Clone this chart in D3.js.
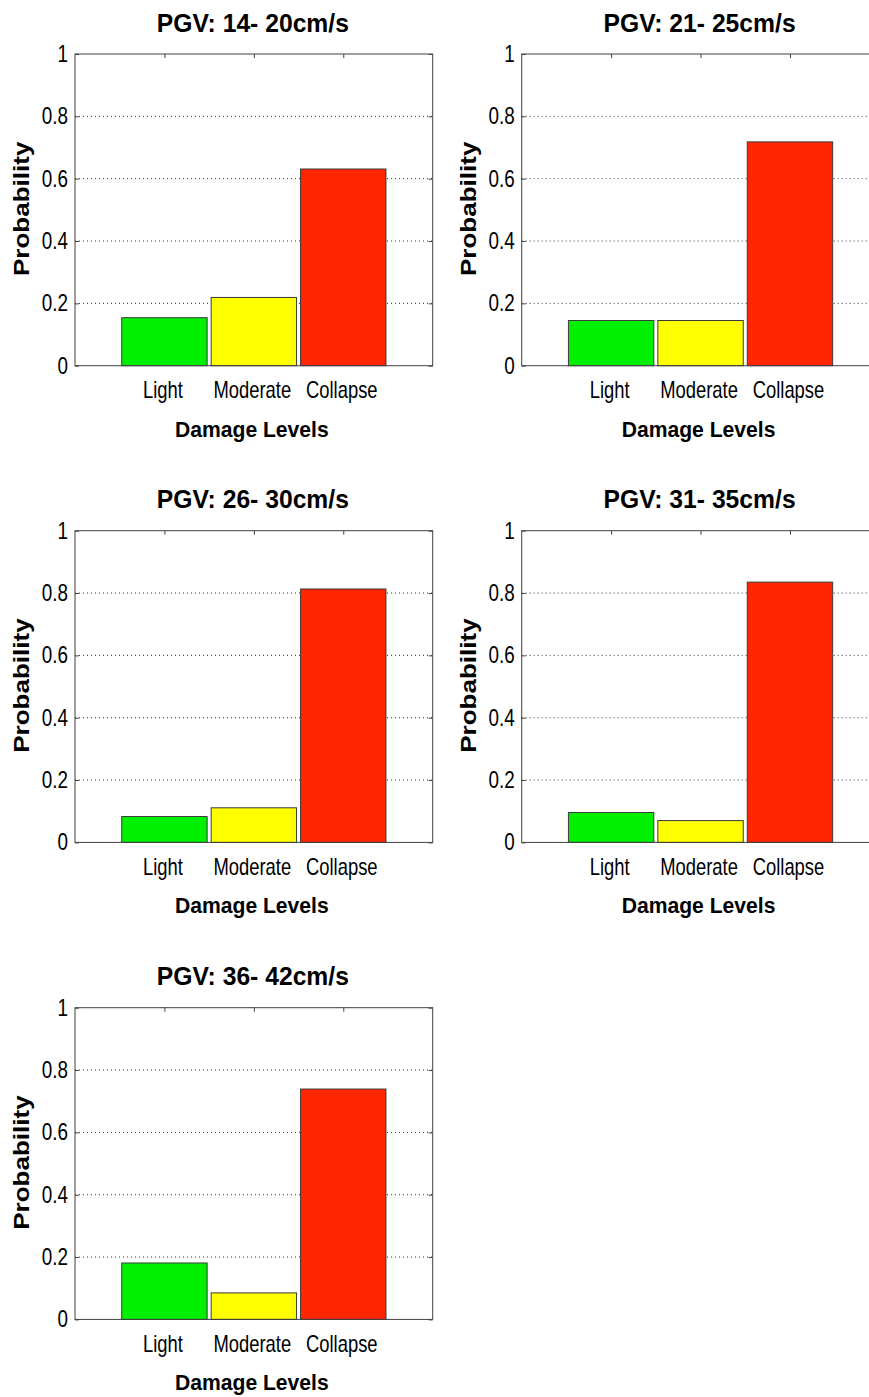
<!DOCTYPE html>
<html>
<head>
<meta charset="utf-8">
<script src="https://cdn.jsdelivr.net/npm/d3@7"></script>
<style>
  body { margin: 0; background: #fff; }
  svg { display: block; }
  text { font-family: "Liberation Sans", Arial, Helvetica, sans-serif; fill: #000; }
</style>
</head>
<body>
<div id="chart"></div>
<script>
// panel titles and damage-level categories
var titles = ["PGV: 14- 20cm/s", "PGV: 21- 25cm/s", "PGV: 26- 30cm/s", "PGV: 31- 35cm/s", "PGV: 36- 42cm/s"];
var categories = ["Light", "Moderate", "Collapse"];

// probability per panel, one array per damage level
var light    = [0.154, 0.145, 0.083, 0.096, 0.181];
var moderate = [0.219, 0.145, 0.111, 0.070, 0.085];
var collapse = [0.631, 0.718, 0.813, 0.835, 0.739];

var yTicks = [0, 0.2, 0.4, 0.6, 0.8, 1];
var colors = ["#00f000", "#ffff00", "#ff2600"];

var W = 869, H = 1397;
var plotW = 357.7, plotH = 311.7;
var colX = [75, 521.7];
var rowY = [54, 530.7, 1007.7];

var svg = d3.select("#chart").append("svg")
    .attr("width", W)
    .attr("height", H);

// x: categories sit at 1,2,3 on a 0..4 axis (matlab style)
var x = d3.scaleLinear().domain([0, 4]).range([0, plotW]);
var y = d3.scaleLinear().domain([0, 1]).range([plotH, 0]);
var barW = 0.955;

titles.forEach(function(title, p) {
    var g = svg.append("g")
        .attr("transform", `translate(${colX[p % 2]}, ${rowY[Math.floor(p / 2)]})`);

    var vals = [light[p], moderate[p], collapse[p]];

    // dotted grid
    g.selectAll("line.grid")
        .data(yTicks.filter(d => d > 0 && d < 1))
        .enter().append("line")
        .attr("class", "grid")
        .attr("x1", 0).attr("x2", plotW)
        .attr("y1", d => y(d)).attr("y2", d => y(d))
        .attr("stroke", "#333")
        .attr("stroke-width", 1)
        .attr("stroke-dasharray", "1,3");

    // bars
    g.selectAll("rect.bar")
        .data(vals)
        .enter().append("rect")
        .attr("class", "bar")
        .attr("x", (d, i) => x(i + 1 - barW / 2))
        .attr("width", x(barW) - x(0))
        .attr("y", d => y(d))
        .attr("height", d => y(0) - y(d))
        .attr("fill", (d, i) => colors[i])
        .attr("stroke", "#3a3a3a")
        .attr("stroke-width", 1);

    // left axis with labels, ticks pointing inward
    var yAxis = g.append("g")
        .call(d3.axisLeft(y).tickValues(yTicks).tickFormat(d3.format("")).tickSizeInner(-4).tickSizeOuter(0).tickPadding(7));
    yAxis.select(".domain").remove();
    yAxis.selectAll("line").attr("stroke", "#404040");
    yAxis.selectAll("text")
        .attr("font-size", 23)
        .attr("font-family", null)
        .attr("x", -7 / 0.82)
        .attr("transform", "scale(0.82,1)");

    // right axis ticks only
    var yAxisR = g.append("g")
        .attr("transform", `translate(${plotW}, 0)`)
        .call(d3.axisRight(y).tickValues(yTicks).tickFormat("").tickSizeInner(-4).tickSizeOuter(0));
    yAxisR.select(".domain").remove();
    yAxisR.selectAll("line").attr("stroke", "#404040");

    // top axis ticks only
    var xAxisT = g.append("g")
        .call(d3.axisTop(x).tickValues([1, 2, 3]).tickFormat("").tickSizeInner(-4).tickSizeOuter(0));
    xAxisT.select(".domain").remove();
    xAxisT.selectAll("line").attr("stroke", "#404040");

    // bottom axis labels
    var xAxis = g.append("g")
        .attr("transform", `translate(0, ${plotH})`)
        .call(d3.axisBottom(x).tickValues([1, 2, 3]).tickFormat(d => categories[d - 1]).tickSize(0).tickPadding(16.3));
    xAxis.select(".domain").remove();
    xAxis.selectAll("text")
        .attr("font-size", 23)
        .attr("font-family", null)
        .attr("transform", "translate(-2,0) scale(0.8,1)");

    // axes box
    g.append("rect")
        .attr("x", 0).attr("y", 0)
        .attr("width", plotW).attr("height", plotH)
        .attr("fill", "none")
        .attr("stroke", "#404040")
        .attr("stroke-width", 1);

    // title
    g.append("text")
        .attr("transform", `translate(${plotW / 2 - 1}, -22.3) scale(0.95,1)`)
        .attr("text-anchor", "middle")
        .attr("font-size", 26)
        .attr("font-weight", "bold")
        .text(title);

    // x label
    g.append("text")
        .attr("transform", `translate(${plotW / 2 - 2}, ${plotH + 71}) scale(0.96,1)`)
        .attr("text-anchor", "middle")
        .attr("font-size", 22)
        .attr("font-weight", "bold")
        .text("Damage Levels");

    // y label
    g.append("text")
        .attr("transform", `translate(-45.7, ${plotH / 2 - 1}) rotate(-90) scale(1.21,1)`)
        .attr("text-anchor", "middle")
        .attr("font-size", 21.5)
        .attr("font-weight", "bold")
        .text("Probability");
});
</script>
</body>
</html>
